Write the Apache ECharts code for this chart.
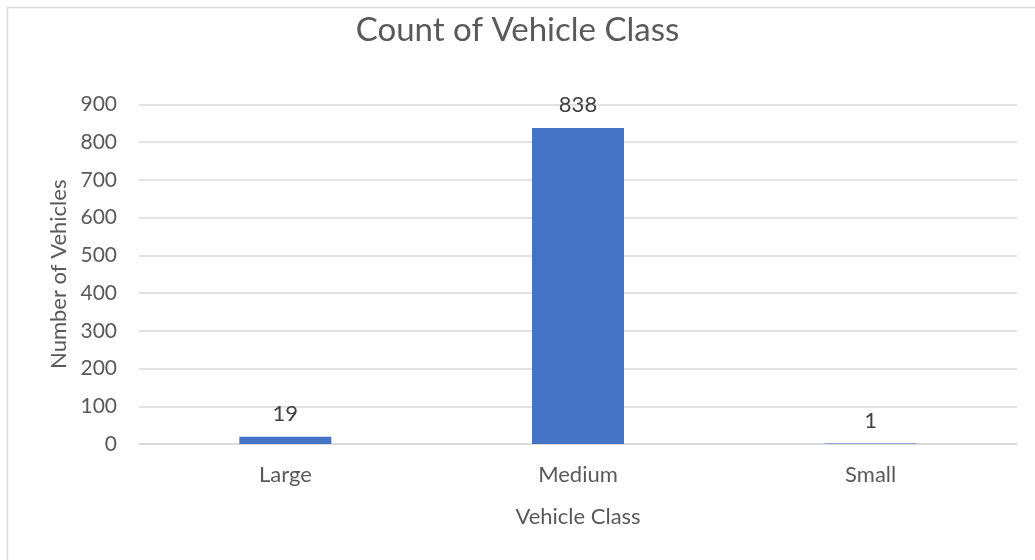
<!DOCTYPE html>
<html>
<head>
<meta charset="utf-8">
<script src="https://cdn.jsdelivr.net/npm/echarts@6/dist/echarts.min.js"></script>
<style>
  html, body { margin: 0; padding: 0; background: #fff; }
  #main { width: 1035px; height: 560px; }
</style>
</head>
<body>
<div id="main"></div>
<script>
// data
const categories = ["Large", "Medium", "Small"];
const counts = [19, 838, 1];
const yTicks = { min: 0, max: 900, step: 100 };

const myChart = echarts.init(document.getElementById("main"));
const font = "Lato, 'Open Sans', sans-serif";

const option = {
  backgroundColor: "#fff",
  animation: false,
  // chart area border
  graphic: [{
    type: "rect",
    left: 5, top: 5,
    shape: { width: 1040, height: 570 },
    style: { fill: "none", stroke: "#d9d9d9", lineWidth: 1.5 },
    silent: true
  }],
  title: {
    text: "Count of Vehicle Class",
    left: "center",
    top: 9,
    textStyle: { fontFamily: font, fontSize: 33, fontWeight: "normal", color: "#595959" }
  },
  grid: { left: 139, right: 18, top: 104.5, bottom: 116 },
  xAxis: {
    type: "category",
    data: categories,
    name: "Vehicle Class",
    nameLocation: "middle",
    nameGap: 62,
    nameTextStyle: { fontFamily: font, fontSize: 22, color: "#595959" },
    axisLine: { lineStyle: { color: "#d9d9d9", width: 1.5 } },
    axisTick: { show: false },
    axisLabel: { fontFamily: font, fontSize: 22, color: "#595959", margin: 20 }
  },
  yAxis: {
    type: "value",
    min: yTicks.min,
    max: yTicks.max,
    interval: yTicks.step,
    name: "Number of Vehicles",
    nameLocation: "middle",
    nameGap: 58,
    nameTextStyle: { fontFamily: font, fontSize: 22, color: "#595959" },
    axisLine: { show: false },
    axisTick: { show: false },
    axisLabel: { fontFamily: font, fontSize: 21, color: "#595959", margin: 22 },
    splitLine: { lineStyle: { color: "#d9d9d9", width: 1.5 } }
  },
  series: [{
    type: "bar",
    data: counts,
    barWidth: 92,
    itemStyle: { color: "#4472c4" },
    label: {
      show: true,
      position: "top",
      distance: 12,
      fontFamily: font,
      fontSize: 22,
      color: "#404040"
    }
  }]
};
myChart.setOption(option);
</script>
</body>
</html>
